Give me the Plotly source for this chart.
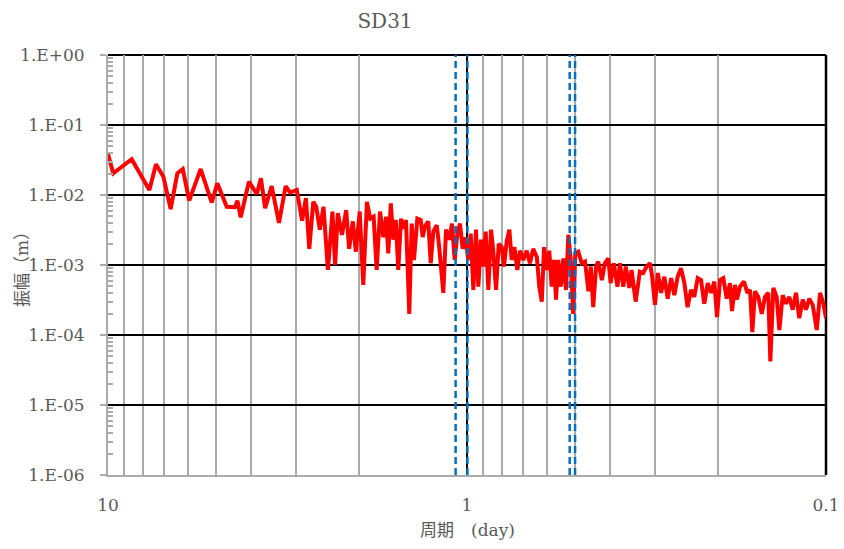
import plotly.graph_objects as go

# Period (day) and amplitude (m)
period_day = [10.0, 9.67, 8.59, 7.67, 7.35, 7.01, 6.69, 6.41, 6.19, 5.94, 5.52, 5.14, 4.96, 4.67, 4.43,
              4.36, 4.27, 4.05, 3.85, 3.75, 3.65, 3.50, 3.34, 3.20, 3.11, 2.98, 2.88, 2.81, 2.75, 2.68,
              2.63, 2.57, 2.51, 2.44, 2.37, 2.33, 2.29, 2.23, 2.17, 2.13, 2.08, 2.04, 1.99, 1.945, 1.90,
              1.86, 1.82, 1.785, 1.747, 1.71, 1.68, 1.657, 1.63, 1.604, 1.579, 1.554, 1.527, 1.504, 1.479,
              1.448, 1.426, 1.405, 1.375, 1.346, 1.329, 1.309, 1.282, 1.262, 1.241, 1.214, 1.195, 1.164,
              1.144, 1.120, 1.101, 1.082, 1.064, 1.046, 1.028, 1.011, 0.9917, 0.9766, 0.960, 0.944, 0.930,
              0.914, 0.901, 0.887, 0.872, 0.857, 0.845, 0.830, 0.816, 0.800, 0.789, 0.775, 0.762, 0.751,
              0.738, 0.724, 0.712, 0.697, 0.682, 0.668, 0.654, 0.639, 0.629, 0.619, 0.610, 0.600, 0.590,
              0.581, 0.572, 0.565, 0.557, 0.548, 0.539, 0.530, 0.522, 0.514, 0.506, 0.4993, 0.490, 0.479,
              0.469, 0.459, 0.452, 0.445, 0.437, 0.431, 0.421, 0.413, 0.404, 0.398, 0.390, 0.381, 0.375,
              0.367, 0.361, 0.353, 0.348, 0.339, 0.330, 0.323, 0.316, 0.309, 0.305, 0.2995, 0.294, 0.288,
              0.282, 0.276, 0.270, 0.2645, 0.259, 0.2535, 0.248, 0.243, 0.2377, 0.2328, 0.2277, 0.2229,
              0.2183, 0.2135, 0.209, 0.2047, 0.2012, 0.1973, 0.1932, 0.1890, 0.1851, 0.1827, 0.1793,
              0.1770, 0.1736, 0.1692, 0.1656, 0.1628, 0.1604, 0.1577, 0.1544, 0.1510, 0.1479, 0.1448,
              0.1429, 0.1402, 0.1372, 0.1349, 0.1320, 0.1292, 0.1265, 0.1238, 0.1212, 0.1187, 0.1161,
              0.1137, 0.1113, 0.1089, 0.1061, 0.1039, 0.1017, 0.100]

amplitude_m = [0.0385, 0.0204, 0.0324, 0.0118, 0.0275, 0.0183, 0.0063, 0.0204, 0.0235, 0.0083, 0.0235,
               0.0078, 0.0147, 0.0068, 0.0067, 0.0083, 0.0048, 0.0155, 0.0103, 0.0173, 0.0065, 0.0134,
               0.0040, 0.0134, 0.0108, 0.0118, 0.0043, 0.0090, 0.0017, 0.0080, 0.0068, 0.0032, 0.0068,
               0.00085, 0.0058, 0.0010, 0.0055, 0.0027, 0.0061, 0.0017, 0.0042, 0.00155, 0.0058, 0.00052,
               0.0080, 0.0046, 0.0049, 0.00085, 0.0058, 0.0025, 0.0049, 0.00147, 0.0076, 0.0023, 0.0044,
               0.00085, 0.0046, 0.0033, 0.0044, 0.0002, 0.0039, 0.00118, 0.0046, 0.0044, 0.0025, 0.0036,
               0.0042, 0.00106, 0.0030, 0.0037, 0.0018, 0.0004, 0.0032, 0.0023, 0.0039, 0.00118, 0.0028,
               0.0039, 0.0017, 0.0025, 0.00118, 0.0028, 0.00044, 0.0032, 0.00049, 0.0023, 0.00095, 0.0030,
               0.00044, 0.0032, 0.0016, 0.00044, 0.0020, 0.0018, 0.00095, 0.0022, 0.0032, 0.00118, 0.0018,
               0.00085, 0.0016, 0.00118, 0.0016, 0.00106, 0.0017, 0.0013, 0.00049, 0.0003, 0.0018, 0.00085,
               0.0016, 0.00049, 0.00118, 0.00032, 0.00118, 0.00049, 0.00124, 0.00044, 0.0027, 0.00118,
               0.0002, 0.00147, 0.00155, 0.00106, 0.00112, 0.00042, 0.00095, 0.00025, 0.00095, 0.00112,
               0.00061, 0.00106, 0.00124, 0.00055, 0.00106, 0.00049, 0.00106, 0.00049, 0.00095, 0.00047,
               0.00085, 0.0003, 0.0008, 0.00077, 0.00095, 0.00106, 0.00068, 0.00027, 0.00077, 0.0004,
               0.00068, 0.00033, 0.00065, 0.00037, 0.00068, 0.0009, 0.00055, 0.00025, 0.00044, 0.00035,
               0.00065, 0.00061, 0.00028, 0.00055, 0.0004, 0.00058, 0.00018, 0.00061, 0.00065, 0.00033,
               0.00055, 0.00022, 0.00052, 0.00032, 0.00049, 0.00058, 0.0004, 0.00044, 0.00011, 0.00042,
               0.00035, 0.0002, 0.00035, 0.0004, 0.000042, 0.00047, 0.00035, 0.000118, 0.00037, 0.00028,
               0.00035, 0.00023, 0.0004, 0.000174, 0.00032, 0.00023, 0.00033, 0.00027, 0.000118, 0.0004,
               0.00028, 0.000174]

# Tidal constituent periods marked by dashed lines (O1, K1, M2, S2)
tide_periods = [1.0758, 0.9973, 0.5175, 0.5000]

x_tick_vals = [10, 1, 0.1]
x_tick_text = ["10", "1", "0.1"]
y_tick_vals = [1, 1e-1, 1e-2, 1e-3, 1e-4, 1e-5, 1e-6]
y_tick_text = ["1.E+00", "1.E-01", "1.E-02", "1.E-03", "1.E-04", "1.E-05", "1.E-06"]

TEXT = "#595959"
GRID_MINOR = "#ABABAB"
SERIF = "DejaVu Serif, Noto Sans CJK JP, serif"

# page offset of the figure inside the browser page (body margin)
OFF = 8
L, R, T, B = 108 - OFF, 844 - 826 + OFF, 55 - OFF, 549 - 475 + OFF
PW = 844 - L - R
PH = 549 - T - B

minor_vals = [m * 10.0 ** e for e in (-6, -5, -4, -3, -2, -1, 0) for m in range(2, 10)]

fig = go.Figure()
fig.add_trace(go.Scatter(x=period_day, y=amplitude_m, mode="lines",
                         line=dict(color="#FF0000", width=4), showlegend=False, hoverinfo="skip"))
for p in tide_periods:
    fig.add_trace(go.Scatter(x=[p, p], y=[1e-6, 1], mode="lines",
                             line=dict(color="#0070C0", width=2.5, dash="7px,4px"),
                             showlegend=False, hoverinfo="skip"))

fig.update_layout(
    width=844, height=549,
    margin=dict(l=L, r=R, t=T, b=B, pad=0),
    paper_bgcolor="white", plot_bgcolor="white",
    title=dict(text="SD31", x=(385 - OFF) / 844, xref="container", xanchor="center",
               y=1 - (21 - OFF) / 549, yanchor="middle", font=dict(family=SERIF, size=20, color=TEXT)),
    font=dict(family=SERIF, color=TEXT, size=17),
    xaxis=dict(type="log", range=[1, -1], tickmode="array", tickvals=x_tick_vals, ticktext=x_tick_text,
               showgrid=True, gridcolor="black", gridwidth=2, ticks="", ticklabelstandoff=14,
               showline=True, linecolor=GRID_MINOR, linewidth=2, zeroline=False, automargin=False,
               tickfont=dict(family=SERIF, size=17, color=TEXT),
               minor=dict(tickmode="array",
                          tickvals=[m * 10.0 ** e for e in (-1, 0) for m in range(2, 10)],
                          showgrid=True, gridcolor=GRID_MINOR, gridwidth=2, ticks="")),
    yaxis=dict(type="log", range=[-6, 0], tickmode="array", tickvals=y_tick_vals, ticktext=y_tick_text,
               showgrid=True, gridcolor="black", gridwidth=2, ticks="outside", ticklen=6, tickwidth=2,
               tickcolor=GRID_MINOR, ticklabelstandoff=12, automargin=False,
               showline=True, linecolor=GRID_MINOR, linewidth=2, zeroline=False,
               tickfont=dict(family=SERIF, size=17, color=TEXT),
               minor=dict(tickmode="array", tickvals=minor_vals, ticks="inside", ticklen=5,
                          tickwidth=1.5, tickcolor=GRID_MINOR, showgrid=False)),
    shapes=[
        dict(type="line", xref="paper", yref="paper", x0=0, x1=1, y0=1, y1=1,
             line=dict(color="black", width=2), layer="below"),
        dict(type="line", xref="paper", yref="paper", x0=1, x1=1, y0=0, y1=1,
             line=dict(color="black", width=2.5), layer="below"),
    ],
    annotations=[
        dict(text="振幅（m）", xref="paper", yref="paper", x=(22 - 108) / PW, y=0.5,
             textangle=-90, showarrow=False, xanchor="center", yanchor="middle",
             font=dict(family=SERIF, size=17, color=TEXT)),
        dict(text="周期　(day)", xref="paper", yref="paper", x=0.5, y=(475 - 530) / PH,
             showarrow=False, xanchor="center", yanchor="middle",
             font=dict(family=SERIF, size=17, color=TEXT)),
    ],
)

fig.write_html("out.html")
